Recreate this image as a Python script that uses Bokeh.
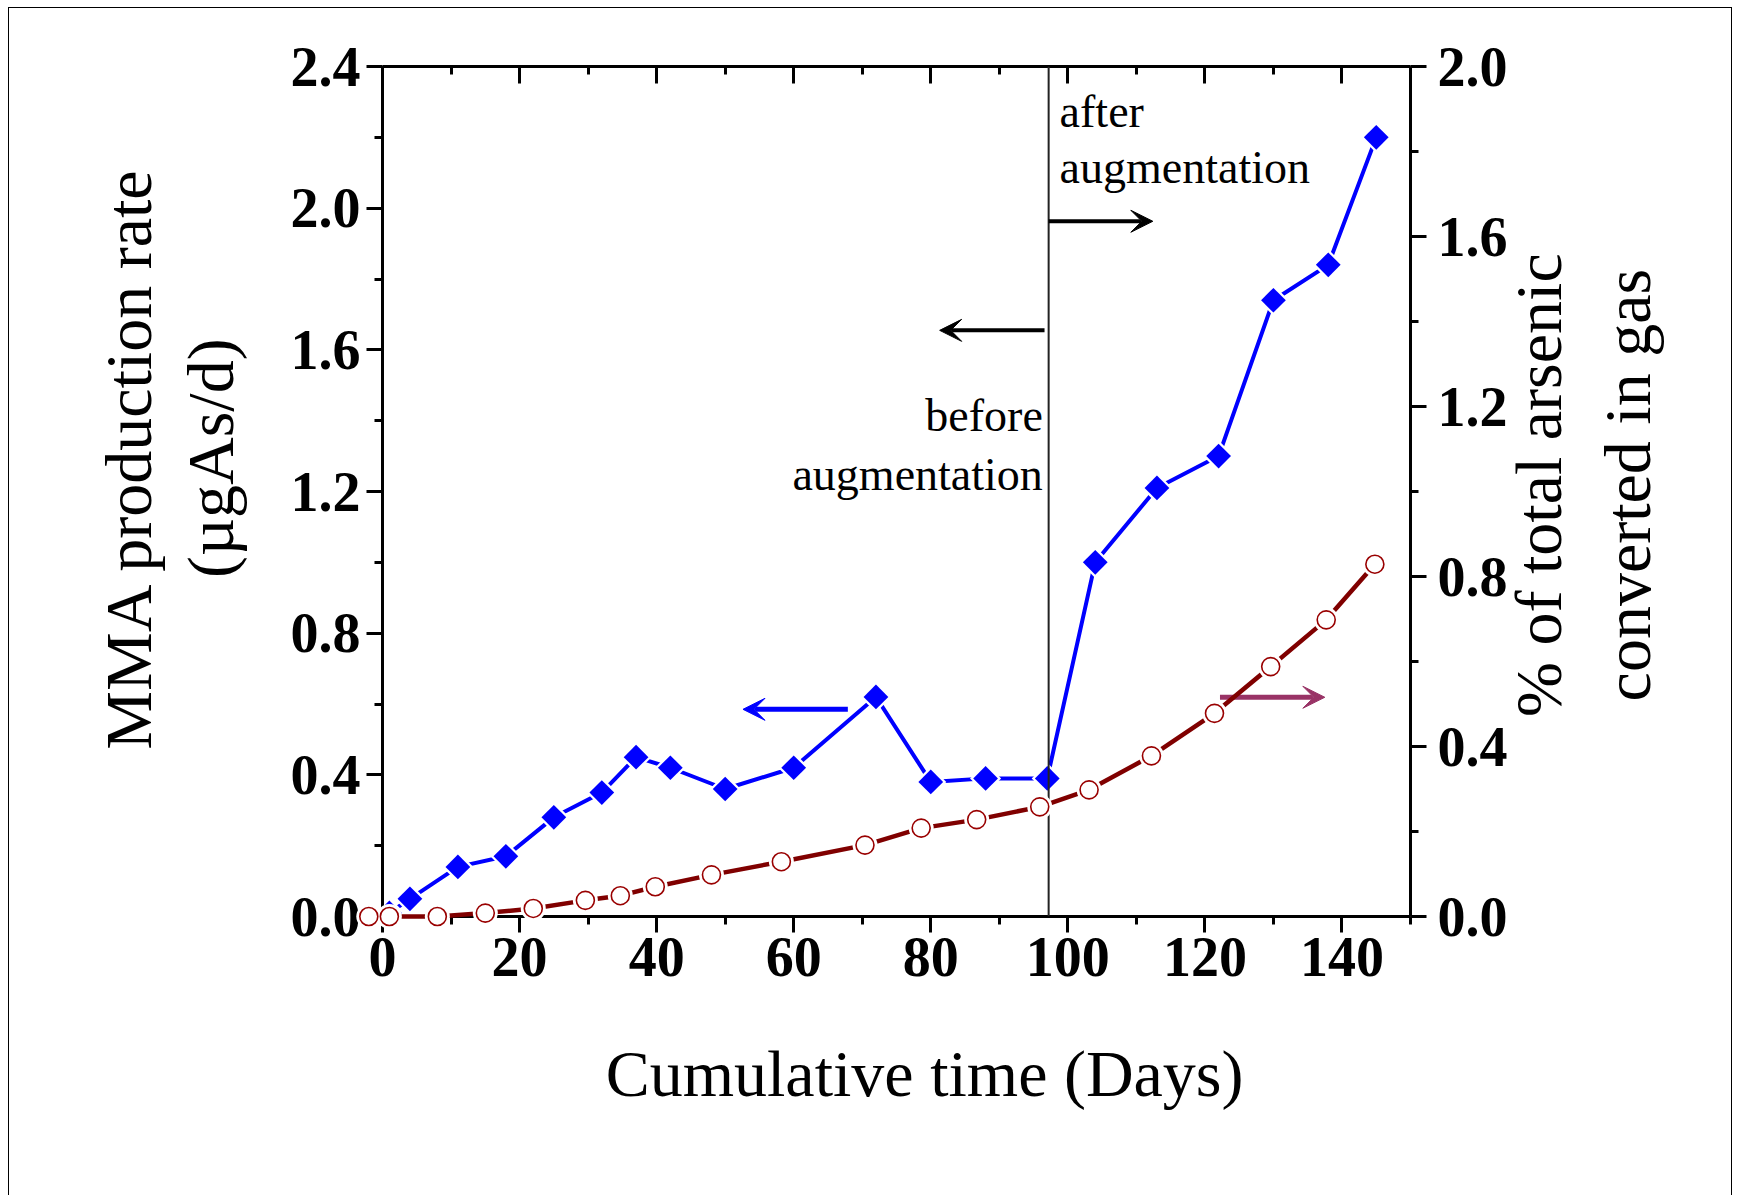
import math
from bokeh.plotting import figure
from bokeh.models import (Range1d, LinearAxis, SingleIntervalTicker, FixedTicker,
                          PrintfTickFormatter, Span, Arrow, VeeHead, Label)
from bokeh.core.properties import value
from bokeh.embed import file_html
from bokeh.resources import INLINE

# ---- data ----
mma_days = [1, 4, 11, 18, 25, 32, 37, 42, 50, 60, 72, 80, 88, 97, 104, 113, 122, 130, 138, 145]
mma_rate = [0.01, 0.05, 0.14, 0.17, 0.28, 0.35, 0.45, 0.42, 0.36, 0.42, 0.62, 0.38, 0.39, 0.39,
            1.00, 1.21, 1.30, 1.74, 1.84, 2.20]
gas_days = [-2, 1, 8, 15, 22, 29.6, 34.7, 39.8, 48, 58.2, 70.4, 78.6, 86.7, 95.9, 103.1,
            112.2, 121.4, 129.6, 137.7, 144.8]
gas_pct = [0.0, 0.0, 0.0, 0.008, 0.019, 0.038, 0.049, 0.070, 0.098, 0.129, 0.168, 0.208,
           0.228, 0.258, 0.298, 0.378, 0.478, 0.588, 0.698, 0.829]
augmentation_day = 97.2

left_ticks = [0.0, 0.4, 0.8, 1.2, 1.6, 2.0, 2.4]
left_minor = [0.2, 0.6, 1.0, 1.4, 1.8, 2.2]
right_ticks = [0.0, 0.4, 0.8, 1.2, 1.6, 2.0]
right_minor = [0.2, 0.6, 1.0, 1.4, 1.8]

x_title = "Cumulative time (Days)"
y_left_lines = ["MMA production rate", "(\u00b5gAs/d)"]
y_right_lines = ["% of total arsenic", "converted in gas"]

FONT = "Liberation Serif"
BLUE = "#0000FF"
MAROON = "#800000"
PURPLE = "#993366"

p = figure(width=1724, height=1188, x_range=Range1d(0, 150), y_range=Range1d(0, 2.4),
           output_backend="svg", toolbar_location=None,
           min_border_left=373, min_border_right=323, min_border_top=58, min_border_bottom=280)
p.styles = {"margin-left": "8px", "margin-top": "7px",
            "border-left": "1px solid black", "border-top": "1px solid black",
            "border-right": "1px solid black"}
p.xgrid.visible = False
p.ygrid.visible = False
p.outline_line_color = None
p.background_fill_color = "white"
p.border_fill_color = "white"

xa = p.below[0]
la = p.left[0]

p.extra_y_ranges = {"right": Range1d(0, 2.0)}
ra = LinearAxis(y_range_name="right")
p.add_layout(ra, "right")
ta = LinearAxis()
p.add_layout(ta, "above")

for ax in (xa, ta):
    ax.ticker = SingleIntervalTicker(interval=20, num_minor_ticks=2)
la.ticker = FixedTicker(ticks=left_ticks, minor_ticks=left_minor)
ra.ticker = FixedTicker(ticks=right_ticks, minor_ticks=right_minor)
for ax in (la, ra):
    ax.formatter = PrintfTickFormatter(format="%.1f")

for ax in (xa, la, ra, ta):
    ax.axis_line_width = 3
    ax.axis_line_color = "black"
    ax.major_tick_line_width = 3
    ax.minor_tick_line_width = 3
    ax.major_tick_line_color = "black"
    ax.minor_tick_line_color = "black"
    ax.major_tick_in = 0
    ax.minor_tick_in = 0
    ax.major_tick_out = 16
    ax.minor_tick_out = 8
    ax.major_label_text_font = FONT
    ax.major_label_text_font_style = "bold"
    ax.major_label_text_font_size = "56px"
    ax.major_label_text_color = "black"

ta.major_tick_in = 17
ta.minor_tick_in = 8
ta.major_tick_out = 0
ta.minor_tick_out = 0
ta.major_label_text_font_size = "1px"
ta.major_label_text_color = None
ta.major_label_standoff = 0

xa.major_label_standoff = 5
la.major_label_standoff = 6
ra.major_label_standoff = 11

# ---- % converted in gas (right axis) ----
r1 = p.line(gas_days, gas_pct, y_range_name="right", line_color=MAROON, line_width=4.5)
r2 = p.scatter(gas_days, gas_pct, y_range_name="right", marker="circle", size=25,
               fill_color="white", line_color=None)
r3 = p.scatter(gas_days, gas_pct, y_range_name="right", marker="circle", size=18,
               fill_color="white", line_color="#990000", line_width=1.6)
for r in (r1, r2, r3):
    r.level = "overlay"

# ---- MMA production rate (left axis) ----
p.line(mma_days, mma_rate, line_color=BLUE, line_width=4)
p.scatter(mma_days, mma_rate, marker="square", angle=math.pi / 4, size=22,
          fill_color="white", line_color=None)
p.scatter(mma_days, mma_rate, marker="square", angle=math.pi / 4, size=17.5,
          fill_color=BLUE, line_color=None)

# ---- augmentation marker ----
p.add_layout(Span(location=augmentation_day, dimension="height", line_color="#222222",
                  line_width=2))


def arrow(x0, x1, y, color, w=5):
    p.add_layout(Arrow(end=VeeHead(size=22, fill_color=color, line_color=color, line_width=1),
                       x_start=x0, y_start=y, x_end=x1, y_end=y,
                       line_color=color, line_width=w))


arrow(67.9, 52.6, 0.585, BLUE)
arrow(122.2, 137.5, 0.619, PURPLE)
arrow(96.6, 81.3, 1.655, "black", 4)
arrow(97.2, 112.4, 1.963, "black", 4)


def label(x, y, text, align):
    p.add_layout(Label(x=x, y=y, text=text, text_align=align, text_baseline="alphabetic",
                       text_font=FONT, text_font_size="46px", text_color="black"))


label(98.8, 2.272, "after", "left")
label(98.8, 2.114, "augmentation", "left")
label(96.35, 1.416, "before", "right")
label(96.35, 1.249, "augmentation", "right")


# axis titles drawn as text glyphs placed in the margins (not clipped at overlay level)
def title(x, y, text, angle):
    p.text(x=[x], y=[y], text=[text], angle=angle, text_align="center",
           text_baseline="alphabetic", text_font=value(FONT), text_font_size=value("66px"),
           text_color="black", level="overlay")


title(79.1, -0.443, x_title, 0.0)
title(-37.0, 1.294, y_left_lines[0], math.pi / 2)
title(-25.1, 1.294, y_left_lines[1], math.pi / 2)
title(168.7, 1.218, y_right_lines[0], math.pi / 2)
title(181.6, 1.218, y_right_lines[1], math.pi / 2)

open("out.html", "w").write(file_html(p, INLINE))
